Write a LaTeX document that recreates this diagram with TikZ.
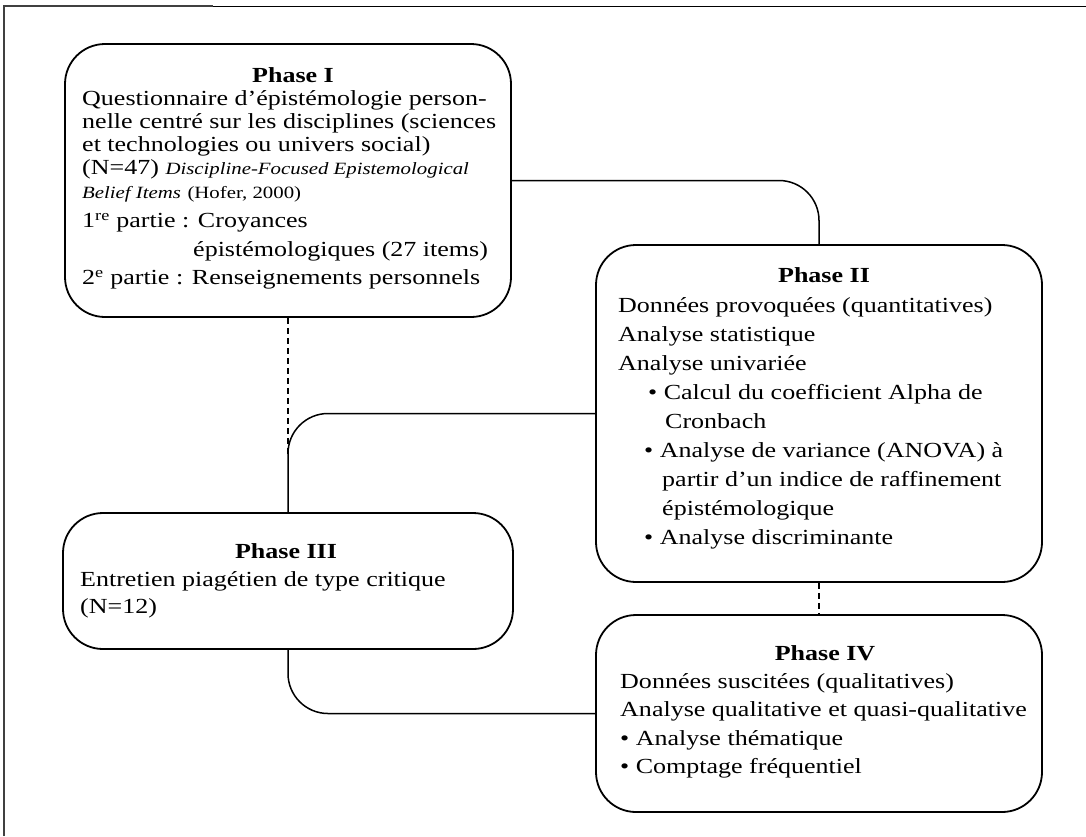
\documentclass[tikz,border=0pt]{standalone}
\usepackage{fontspec}
\setmainfont{Liberation Serif}[FakeStretch=1.21]
\newcommand\mylines[2]{\vtop{\baselineskip=#1\lineskiplimit=-\maxdimen\lineskip=0pt #2}}
\newcommand\smallit[1]{{\fontsize{17.2pt}{19pt}\selectfont\itshape #1}}
\newcommand\smallup[1]{{\fontsize{17.2pt}{19pt}\selectfont #1}}
\tikzset{
  box/.style={draw, line width=1.8pt, rounded corners=40pt, inner sep=0pt},
  conn/.style={draw, line width=1.5pt, rounded corners=40pt},
  dconn/.style={draw, line width=1.5pt, dash pattern=on 6pt off 4pt},
  title/.style={inner sep=0pt, anchor=base, font=\fontsize{21.5pt}{24pt}\selectfont\bfseries},
  txt/.style={inner sep=0pt, anchor=base west},
}
\begin{document}
\begin{tikzpicture}[x=1pt,y=-1pt, font=\fontsize{21.5pt}{24pt}\selectfont]
\useasboundingbox (0,0) rectangle (1086,836);
% outer frame
\draw[line width=1.2pt, black!75] (4,836) -- (4,6) -- (213,6);
\draw[line width=1.8pt] (213,6.5) -- (1086,6.5);

% boxes
\node[box, minimum width=446pt, minimum height=273pt] (p1) at (288,180.5) {};
\node[box, minimum width=446pt, minimum height=337pt] (p2) at (819,413.5) {};
\node[box, minimum width=450pt, minimum height=136pt] (p3) at (288,581) {};
\node[box, minimum width=446pt, minimum height=197pt] (p4) at (819,713.5) {};

% connectors
\coordinate (j) at (288,454);
\draw[conn] (p1.east) -| (p2.north);
\draw[conn] (p2.west) -| (p3.north);
\draw[conn] (p3.south) |- (p4.west);
\draw[dconn] (p1.south) -- (j);
\draw[dconn] (p2.south) -- (p4.north);

% Phase I
\node[title] (h1) at (293,82) {Phase I};
\node[txt] (b1) at (82,105) {\mylines{23.3pt}{%
  \hbox{Questionnaire d’épistémologie person-}%
  \hbox{nelle centré sur les disciplines (sciences}%
  \hbox{et technologies ou univers social)}%
  \hbox{(N=47) \smallit{Discipline-Focused Epistemological}}%
  \hbox{\smallit{Belief Items} \smallup{(Hofer, 2000)}}%
  \baselineskip=29.5pt
  \hbox{1\textsuperscript{re} partie : Croyances}%
  \baselineskip=28.5pt
  \hbox{\kern111pt épistémologiques (27 items)}%
  \hbox{2\textsuperscript{e} partie : Renseignements personnels}}};

% Phase II
\node[title] (h2) at (824,282) {Phase II};
\node[txt] (b2) at (618,312) {\mylines{29pt}{%
  \hbox{Données provoquées (quantitatives)}%
  \hbox{Analyse statistique}%
  \hbox{Analyse univariée}%
  \hbox{\kern30pt\textbullet\ Calcul du coefficient Alpha de}%
  \hbox{\kern47pt Cronbach}%
  \hbox{\kern26pt\textbullet\ Analyse de variance (ANOVA) à}%
  \hbox{\kern44pt partir d’un indice de raffinement}%
  \hbox{\kern44pt épistémologique}%
  \hbox{\kern26pt\textbullet\ Analyse discriminante}}};

% Phase III
\node[title] (h3) at (286,558) {Phase III};
\node[txt] (b3) at (80,586) {\mylines{27pt}{%
  \hbox{Entretien piagétien de type critique}%
  \hbox{(N=12)}}};

% Phase IV
\node[title] (h4) at (825,660) {Phase IV};
\node[txt] (b4) at (620,688) {\mylines{28.5pt}{%
  \hbox{Données suscitées (qualitatives)}%
  \hbox{Analyse qualitative et quasi-qualitative}%
  \hbox{\textbullet\ Analyse thématique}%
  \hbox{\textbullet\ Comptage fréquentiel}}};
\end{tikzpicture}
\end{document}
